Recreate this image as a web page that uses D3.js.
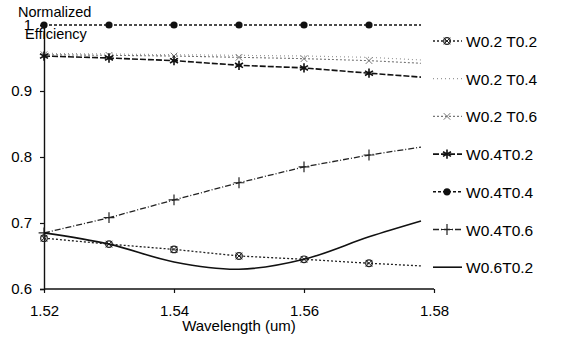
<!DOCTYPE html>
<html>
<head>
<meta charset="utf-8">
<script src="https://cdn.jsdelivr.net/npm/d3@7"></script>
<style>
  html, body { margin: 0; padding: 0; background: #fff; }
  svg { display: block; font-family: "Liberation Sans", Arial, sans-serif; }
</style>
</head>
<body>
<svg id="chart" width="563" height="340"></svg>
<script>
/* ── Data ─────────────────────────────────────────────────────── */
const wavelengths = [1.52, 1.53, 1.54, 1.55, 1.56, 1.57, 1.578];
const xTicks = [1.52, 1.54, 1.56, 1.58];
const yTicks = [0.6, 0.7, 0.8, 0.9, 1];

const w02t02 = [0.677, 0.668, 0.660, 0.650, 0.645, 0.639, 0.635];
const w02t04 = [0.957, 0.956, 0.955, 0.954, 0.953, 0.951, 0.947];
const w02t06 = [0.955, 0.954, 0.953, 0.951, 0.949, 0.946, 0.942];
const w04t02 = [0.953, 0.950, 0.946, 0.939, 0.935, 0.927, 0.921];
const w04t04 = [1.000, 1.000, 1.000, 1.000, 1.000, 1.000, 1.000];
const w04t06 = [0.685, 0.708, 0.735, 0.761, 0.785, 0.803, 0.815];
const w06t02 = [0.685, 0.668, 0.641, 0.630, 0.645, 0.679, 0.703];

const series = [
  { name: "W0.2 T0.2", values: w02t02, color: "#222", dash: "2,2",     width: 1.3, marker: "xcircle",  smooth: false },
  { name: "W0.2 T0.4", values: w02t04, color: "#999", dash: "1,3",     width: 1.2, marker: "none",     smooth: false },
  { name: "W0.2 T0.6", values: w02t06, color: "#777", dash: "2,2",     width: 1.1, marker: "times",    smooth: false },
  { name: "W0.4T0.2",  values: w04t02, color: "#111", dash: "6,2",     width: 1.6, marker: "asterisk", smooth: false },
  { name: "W0.4T0.4",  values: w04t04, color: "#111", dash: "3,2",     width: 1.4, marker: "dot",      smooth: false },
  { name: "W0.4T0.6",  values: w04t06, color: "#222", dash: "6,2,1,2", width: 1.3, marker: "plus",     smooth: false },
  { name: "W0.6T0.2",  values: w06t02, color: "#111", dash: null,      width: 1.6, marker: "none",     smooth: true }
];

(function () {
  "use strict";

  const svg = d3.select("#chart");
  const x = d3.scaleLinear().domain([1.52, 1.58]).range([44, 434]);
  const y = d3.scaleLinear().domain([0.6, 1.0]).range([289, 25]);

  /* ── Axes ─────────────────────────────────────────────────────── */
  const xAxis = svg.append("g").attr("transform", `translate(0,${y(0.6)})`)
    .call(d3.axisBottom(x).tickValues(xTicks).tickSize(4).tickPadding(12).tickFormat(d3.format(".2f")));
  const yAxis = svg.append("g").attr("transform", `translate(${x(1.52)},0)`)
    .call(d3.axisLeft(y).tickValues(yTicks).tickSize(4).tickPadding(8).tickFormat(d => d === 1 ? "1" : d3.format(".1f")(d)));

  [xAxis, yAxis].forEach(a => {
    a.select(".domain").attr("stroke", "#111").attr("stroke-width", 1.4);
    a.selectAll(".tick line").attr("stroke", "#111").attr("stroke-width", 1.2);
    a.selectAll("text").attr("fill", "#000").attr("font-size", 15)
      .attr("font-family", "Liberation Sans, Arial, sans-serif");
  });
  xAxis.selectAll(".domain").attr("d", `M${x(1.52)},0H${x(1.58)}`);

  /* ── Titles ───────────────────────────────────────────────────── */
  svg.append("text").attr("x", 18).attr("y", 17).attr("font-size", 14.5).attr("fill", "#000").text("Normalized");
  svg.append("text").attr("x", 25).attr("y", 39).attr("font-size", 14.5).attr("fill", "#000").text("Efficiency");
  svg.append("text").attr("x", 239).attr("y", 331).attr("text-anchor", "middle")
    .attr("font-size", 15).attr("fill", "#000").text("Wavelength (um)");

  /* ── Lines ────────────────────────────────────────────────────── */
  const line = d3.line().x((d, i) => x(wavelengths[i])).y(d => y(d));
  const smoothLine = d3.line().x((d, i) => x(wavelengths[i])).y(d => y(d)).curve(d3.curveCatmullRom.alpha(0.5));

  function drawMarker(g, type, cx, cy, color) {
    if (type === "dot") {
      g.append("circle").attr("cx", cx).attr("cy", cy).attr("r", 3.6).attr("fill", color);
    } else if (type === "xcircle") {
      g.append("circle").attr("cx", cx).attr("cy", cy).attr("r", 3.3)
        .attr("fill", "none").attr("stroke", color).attr("stroke-width", 1.2);
      g.append("path").attr("transform", `translate(${cx},${cy})`)
        .attr("d", d3.symbol().type(d3.symbolTimes).size(30)())
        .attr("fill", "none").attr("stroke", color).attr("stroke-width", 1);
    } else if (type === "asterisk") {
      g.append("path").attr("transform", `translate(${cx},${cy})`)
        .attr("d", d3.symbol().type(d3.symbolAsterisk).size(60)())
        .attr("fill", "none").attr("stroke", color).attr("stroke-width", 1.6);
    } else if (type === "plus") {
      g.append("path").attr("transform", `translate(${cx},${cy})`)
        .attr("d", d3.symbol().type(d3.symbolPlus).size(40)())
        .attr("fill", "none").attr("stroke", color).attr("stroke-width", 1.2);
    } else if (type === "times") {
      g.append("path").attr("transform", `translate(${cx},${cy})`)
        .attr("d", d3.symbol().type(d3.symbolTimes).size(30)())
        .attr("fill", "none").attr("stroke", color).attr("stroke-width", 1);
    }
  }

  series.forEach(s => {
    const g = svg.append("g");
    g.append("path").attr("d", (s.smooth ? smoothLine : line)(s.values))
      .attr("fill", "none").attr("stroke", s.color).attr("stroke-width", s.width)
      .attr("stroke-dasharray", s.dash);
    // markers only on the 0.01 grid, not on the end point
    s.values.slice(0, 6).forEach((v, i) => drawMarker(g, s.marker, x(wavelengths[i]), y(v), s.color));
  });

  /* ── Legend ───────────────────────────────────────────────────── */
  const lg = svg.append("g");
  series.forEach((s, i) => {
    const ly = 41 + i * 37.7;
    lg.append("line").attr("x1", 433).attr("x2", 462).attr("y1", ly).attr("y2", ly)
      .attr("stroke", s.color).attr("stroke-width", s.width).attr("stroke-dasharray", s.dash);
    drawMarker(lg, s.marker, 447, ly, s.color);
    lg.append("text").attr("x", 466).attr("y", ly + 6).attr("font-size", 15.5)
      .attr("fill", "#000").text(s.name);
  });
})();
</script>
</body>
</html>
